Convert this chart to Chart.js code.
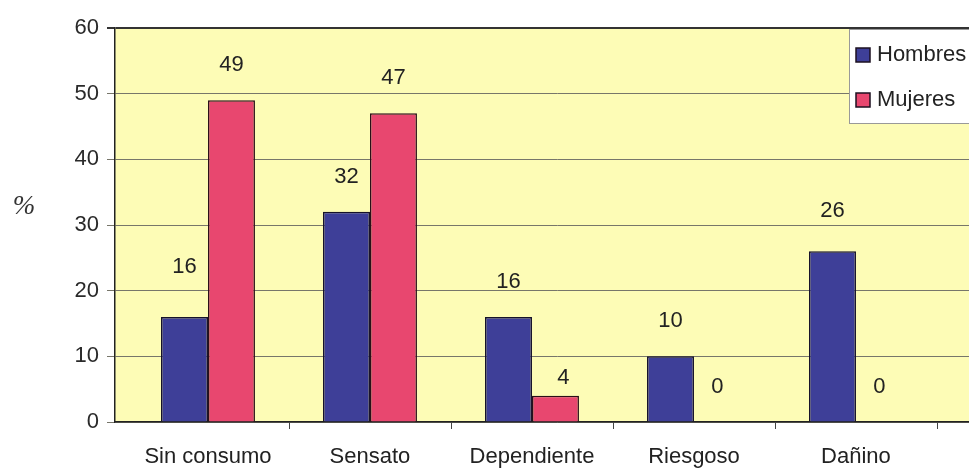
<!DOCTYPE html>
<html>
<head>
<meta charset="utf-8">
<script src="https://cdn.jsdelivr.net/npm/chart.js@4.4.1/dist/chart.umd.min.js"></script>
<style>
    html, body { margin: 0; padding: 0; background: #fff; overflow: hidden; }
    #wrap { width: 1000px; height: 472px; }
</style>
</head>
<body>
<div id="wrap"><canvas id="consumoChart" width="1000" height="472"></canvas></div>
<script>
const categorias = ['Sin consumo', 'Sensato', 'Dependiente', 'Riesgoso', 'Dañino'];
const hombres = [16, 32, 16, 10, 26];
const mujeres = [49, 47, 4, 0, 0];
const yTicks = [0, 10, 20, 30, 40, 50, 60];

const azul = '#3e3f98';
const rosa = '#e8476f';
const fuente = '"Liberation Sans", Arial, sans-serif';

// a few labels sit a bit off the default spot (dataset-index : [dx, dy])
const ajusteEtiquetas = { '0-0': [0, -15], '1-2': [8, 17], '0-4': [0, -5] };

const fondoAmarillo = {
    id: 'fondoAmarillo',
    beforeDraw(chart) {
        const { ctx, chartArea: a } = chart;
        ctx.save();
        ctx.fillStyle = '#fdfcb6';
        ctx.fillRect(a.left, a.top, a.right - a.left, a.bottom - a.top);
        ctx.restore();
    }
};

const extras = {
    id: 'extras',
    afterDatasetsDraw(chart) {
        const ctx = chart.ctx;
        ctx.save();
        ctx.font = '22px ' + fuente;
        ctx.fillStyle = '#222';
        ctx.textAlign = 'center';
        ctx.textBaseline = 'bottom';
        chart.data.datasets.forEach((ds, d) => {
            chart.getDatasetMeta(d).data.forEach((bar, i) => {
                const adj = ajusteEtiquetas[d + '-' + i] || [0, 0];
                ctx.fillText(String(ds.data[i].y), bar.x + adj[0], bar.y - 24 + adj[1]);
            });
        });
        ctx.restore();
    },
    afterDraw(chart) {
        const { ctx, chartArea: a } = chart;
        const x = chart.scales.x;
        ctx.save();
        // category separators below the axis (the first one coincides with the y axis)
        ctx.strokeStyle = '#444';
        ctx.lineWidth = 1;
        for (let i = 1; i <= categorias.length; i++) {
            const px = Math.round(x.getPixelForValue(i - 0.5)) + 0.5;
            ctx.beginPath();
            ctx.moveTo(px, a.bottom);
            ctx.lineTo(px, a.bottom + 7);
            ctx.stroke();
        }

        // legend box
        ctx.fillStyle = '#fff';
        ctx.fillRect(849, 29, 160, 94);
        ctx.strokeStyle = '#999';
        ctx.strokeRect(849.5, 29.5, 160, 94);
        ctx.font = '22px ' + fuente;
        ctx.textAlign = 'left';
        ctx.textBaseline = 'middle';
        chart.data.datasets.forEach((ds, d) => {
            const y = 55 + d * 45;
            ctx.fillStyle = ds.backgroundColor;
            ctx.fillRect(856, y - 7, 14, 14);
            ctx.strokeStyle = '#1c1020';
            ctx.lineWidth = 1.5;
            ctx.strokeRect(856, y - 7, 14, 14);
            ctx.fillStyle = '#222';
            ctx.fillText(ds.label, 877, y);
        });

        // y unit
        ctx.font = 'italic 27px "Liberation Serif", serif';
        ctx.textAlign = 'center';
        ctx.fillStyle = '#333';
        ctx.fillText('%', 24, 207);
        ctx.restore();
    }
};

new Chart(document.getElementById('consumoChart'), {
    type: 'bar',
    data: {
        datasets: [
            {
                label: 'Hombres',
                data: hombres.map((v, i) => ({ x: i, y: v })),
                backgroundColor: azul,
                borderColor: '#16122a',
                borderWidth: 1.5
            },
            {
                label: 'Mujeres',
                data: mujeres.map((v, i) => ({ x: i, y: v })),
                backgroundColor: rosa,
                borderColor: '#2a0f18',
                borderWidth: 1.5
            }
        ]
    },
    options: {
        responsive: false,
        animation: false,
        categoryPercentage: 0.58,
        barPercentage: 1,
        layout: { padding: { top: 28, right: 0, left: 0, bottom: 0 } },
        plugins: {
            legend: { display: false },
            tooltip: { enabled: false }
        },
        scales: {
            x: {
                type: 'linear',
                offset: false,
                min: -0.574,
                max: 4.889,
                afterBuildTicks: s => { s.ticks = categorias.map((c, i) => ({ value: i })); },
                afterFit: s => { s.height = 50; },
                grid: { display: false, drawTicks: false, offset: false },
                border: { display: true, color: '#222', width: 1.5 },
                ticks: {
                    padding: 22,
                    maxRotation: 0,
                    autoSkip: false,
                    color: '#222',
                    font: { family: fuente, size: 22 },
                    callback: v => categorias[v]
                }
            },
            y: {
                min: 0,
                max: 60,
                afterBuildTicks: s => { s.ticks = yTicks.map(v => ({ value: v })); },
                afterFit: s => { s.width = 115; },
                grid: {
                    color: c => c.tick && c.tick.value === 60 ? '#333' : '#77766a',
                    lineWidth: c => c.tick && c.tick.value === 60 ? 2 : 1,
                    tickLength: 8
                },
                border: { display: true, color: '#222', width: 1.5 },
                ticks: {
                    padding: 8,
                    color: '#2a2a2a',
                    font: { family: fuente, size: 22 }
                }
            }
        }
    },
    plugins: [fondoAmarillo, extras]
});
</script>
</body>
</html>
